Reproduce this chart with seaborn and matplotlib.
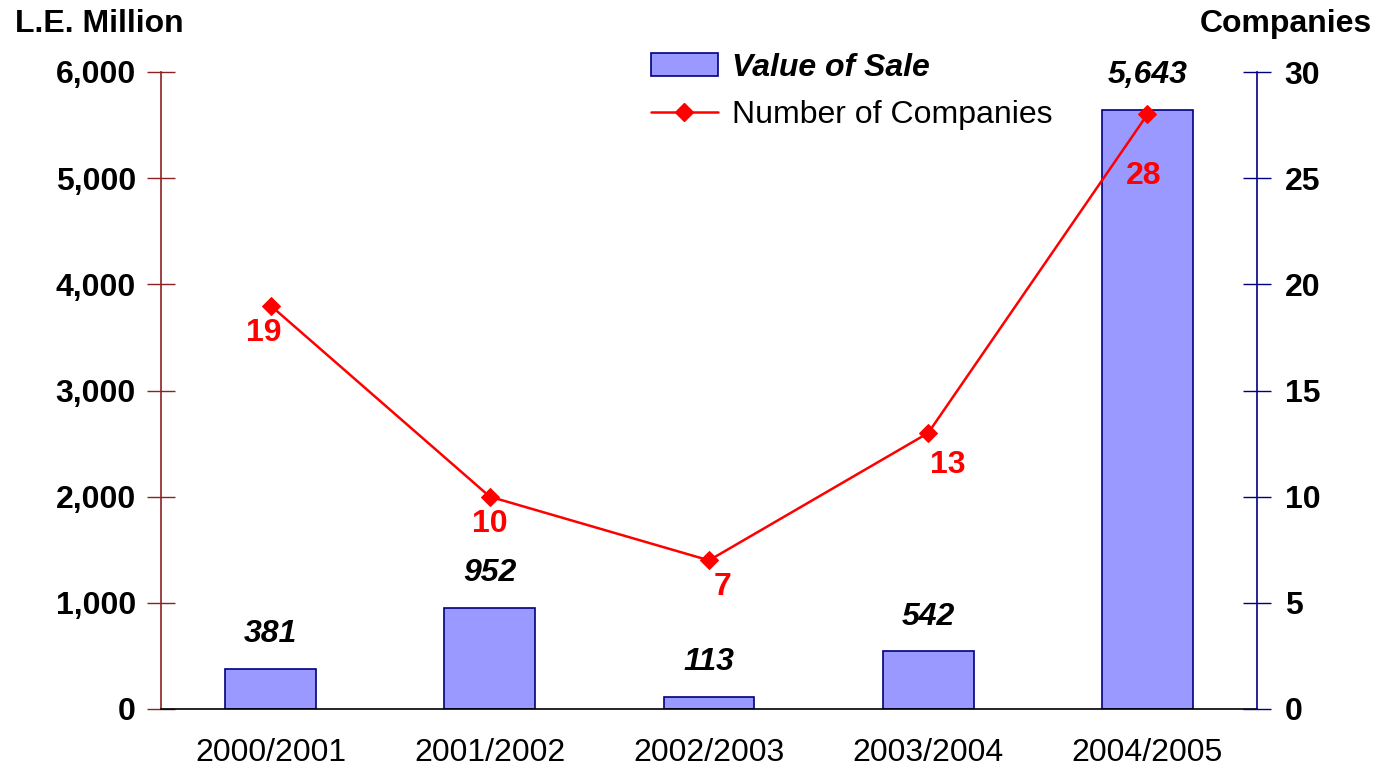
import numpy as np
import pandas as pd
import matplotlib
matplotlib.use("Agg")
import matplotlib.pyplot as plt
from matplotlib.lines import Line2D
from matplotlib.patches import Patch
import seaborn as sns

# ---- data ----
years = ["2000/2001", "2001/2002", "2002/2003", "2003/2004", "2004/2005"]
sale_values = [381, 952, 113, 542, 5643]
companies = [19, 10, 7, 13, 28]
left_ticks = [0, 1000, 2000, 3000, 4000, 5000, 6000]
right_ticks = [0, 5, 10, 15, 20, 25, 30]
# label offsets (points) for the red company labels
comp_label_offsets = [(-5, -20), (0, -20), (10, -19), (14, -23), (-3, -44)]

sns.set_style("white")
plt.rcParams["font.family"] = ["Liberation Sans", "DejaVu Sans"]
plt.rcParams["text.color"] = "black"
plt.rcParams["xtick.color"] = "black"
plt.rcParams["ytick.color"] = "black"
plt.rcParams["xtick.labelcolor"] = "black"
plt.rcParams["ytick.labelcolor"] = "black"

FS = 23
BAR_COLOR = "#9999FF"
EDGE = "#000080"
RED = "#FF0000"
LEFT_SPINE = "#8B2323"

fig = plt.figure(figsize=(13.77, 7.71), dpi=100)
ax = fig.add_axes([161 / 1377, 62 / 771, 1096 / 1377, 637 / 771])

df = pd.DataFrame({"year": years, "sale": sale_values, "companies": companies})
df["pos"] = np.arange(len(years))

sns.barplot(data=df, x="year", y="sale", ax=ax, color=BAR_COLOR,
            edgecolor=EDGE, linewidth=1.2, width=0.415, saturation=1)
ax.set_xlim(-0.5, len(years) - 0.5)
ax.set_ylim(0, 6000)
ax.set_yticks(left_ticks)
ax.set_yticklabels([f"{v:,}" for v in left_ticks], fontsize=FS, fontweight="bold",
                   color="black")
ax.set_xlabel("")
ax.set_ylabel("")

# x ticks: labels at centres, tick marks at boundaries
ax.set_xticks(np.arange(len(years)))
ax.set_xticklabels(years, fontsize=FS, color="black")
ax.tick_params(axis="x", which="major", length=0, pad=21)
ax.set_xticks(np.arange(-0.5, len(years), 1.0), minor=True)
ax.tick_params(axis="x", which="minor", length=10, width=1, color="black", direction="out")
ax.tick_params(axis="y", direction="inout", length=20, width=1, color=LEFT_SPINE, pad=8)

for s in ["top", "right"]:
    ax.spines[s].set_visible(False)
ax.spines["left"].set_color(LEFT_SPINE)
ax.spines["left"].set_linewidth(1.2)
ax.spines["bottom"].set_color("black")
ax.spines["bottom"].set_linewidth(1.2)

# bar value labels
for i, v in enumerate(sale_values):
    ax.annotate(f"{v:,}", xy=(i, v), xytext=(0, 25), textcoords="offset points",
                ha="center", va="center", fontsize=FS, fontweight="bold",
                fontstyle="italic", color="black")

# secondary axis
ax2 = ax.twinx()
sns.lineplot(data=df, x="pos", y="companies", ax=ax2, color=RED, linewidth=1.8,
             marker="D", markersize=9, markeredgecolor=RED, markerfacecolor=RED,
             sort=False)
ax2.set_ylim(0, 30)
ax2.set_xlim(-0.5, len(years) - 0.5)
ax2.set_yticks(right_ticks)
ax2.set_yticklabels([str(v) for v in right_ticks], fontsize=FS, fontweight="bold",
                    color="black")
ax2.tick_params(axis="y", direction="inout", length=20, width=1, color=EDGE, pad=10)
ax2.set_ylabel("")
ax2.set_xlabel("")
for s in ["top", "left", "bottom"]:
    ax2.spines[s].set_visible(False)
ax2.spines["right"].set_color(EDGE)
ax2.spines["right"].set_linewidth(1.2)

for i, (c, off) in enumerate(zip(companies, comp_label_offsets)):
    ax2.annotate(str(c), xy=(i, c), xytext=off, textcoords="offset points",
                 ha="center", va="center", fontsize=FS, fontweight="bold", color=RED)

# axis titles
fig.text(15 / 1377, 1 - 24 / 771, "L.E. Million", fontsize=FS, fontweight="bold",
         ha="left", va="center", color="black")
fig.text(1372 / 1377, 1 - 24 / 771, "Companies", fontsize=FS, fontweight="bold",
         ha="right", va="center", color="black")

# legend
handles = [Patch(facecolor=BAR_COLOR, edgecolor=EDGE, linewidth=1.2),
           Line2D([0], [0], color=RED, linewidth=1.8, marker="D", markersize=9)]
leg = fig.legend(handles, ["Value of Sale", "Number of Companies"],
                 loc="upper left", bbox_to_anchor=(638 / 1377, 1 - 40 / 771),
                 frameon=False, fontsize=FS, handlelength=2.1, handletextpad=0.45,
                 labelspacing=0.55, borderaxespad=0)
texts = leg.get_texts()
for t in texts:
    t.set_color("black")
texts[0].set_fontweight("bold")
texts[0].set_fontstyle("italic")

fig.savefig("out.png", dpi=100)
